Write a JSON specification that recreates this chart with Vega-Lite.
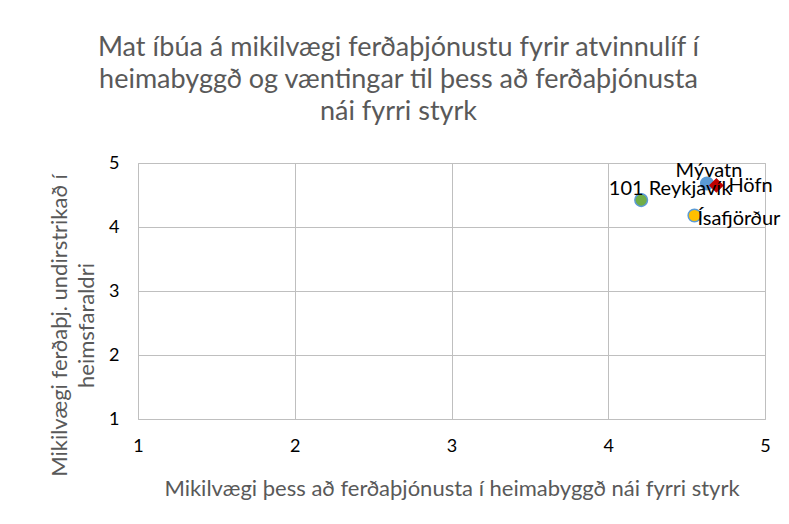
{
  "$schema": "https://vega.github.io/schema/vega-lite/v6.json",
  "autosize": "none",
  "width": 627,
  "height": 256,
  "padding": {"left": 138, "top": 163, "right": 24, "bottom": 105},
  "background": "white",
  "config": {
    "font": "Lato",
    "view": {"stroke": "#BFBFBF", "strokeWidth": 1},
    "axis": {"gridColor": "#BFBFBF", "gridWidth": 1, "domain": false, "ticks": false, "labelFlush": false, "labelColor": "#000000", "labelFontSize": 18, "labelFont": "Lato", "titleFont": "Lato", "titleColor": "#595959", "titleFontWeight": "normal"}
  },
  "title": {
    "text": ["Mat íbúa á mikilvægi ferðaþjónustu fyrir atvinnulíf í", "heimabyggð og væntingar til þess að ferðaþjónusta", "nái fyrri styrk"],
    "anchor": "middle",
    "frame": "group",
    "dx": -53,
    "offset": 28,
    "fontSize": 27,
    "lineHeight": 32,
    "font": "Lato",
    "fontWeight": "normal",
    "color": "#595959"
  },
  "data": {
    "values": [
      {"name": "101 Reykjavík", "x": 4.21, "y": 4.42},
      {"name": "Mývatn", "x": 4.63, "y": 4.68},
      {"name": "Höfn", "x": 4.69, "y": 4.65},
      {"name": "Ísafjörður", "x": 4.55, "y": 4.18}
    ]
  },
  "encoding": {
    "x": {
      "field": "x", "type": "quantitative",
      "scale": {"domain": [1, 5], "nice": false, "zero": false},
      "axis": {"values": [1, 2, 3, 4, 5], "format": "d", "labelPadding": 18, "title": "Mikilvægi þess að ferðaþjónusta í heimabyggð nái fyrri styrk", "titleFontSize": 22, "titlePadding": 23}
    },
    "y": {
      "field": "y", "type": "quantitative",
      "scale": {"domain": [1, 5], "nice": false, "zero": false},
      "axis": {"values": [1, 2, 3, 4, 5], "format": "d", "labelPadding": 19, "title": ["Mikilvægi ferðaþj. undirstrikað í", "heimsfaraldri"], "titleFontSize": 22, "titleAngle": -90, "titleX": -79, "titleY": 162, "titleAlign": "center", "titleBaseline": "middle", "titleLineHeight": 27}
    }
  },
  "layer": [
    {
      "mark": {"type": "point", "filled": true, "opacity": 1, "size": 160, "strokeWidth": 1.5},
      "encoding": {
        "shape": {"field": "name", "type": "nominal", "scale": {"domain": ["Mývatn", "Höfn", "101 Reykjavík", "Ísafjörður"], "range": ["circle", "diamond", "circle", "circle"]}, "legend": null},
        "fill": {"field": "name", "type": "nominal", "scale": {"domain": ["Mývatn", "Höfn", "101 Reykjavík", "Ísafjörður"], "range": ["#5B9BD5", "#C00000", "#70AD47", "#FFC000"]}, "legend": null},
        "stroke": {"field": "name", "type": "nominal", "scale": {"domain": ["Mývatn", "Höfn", "101 Reykjavík", "Ísafjörður"], "range": ["#5B9BD5", "#C00000", "#5B9BD5", "#5B9BD5"]}, "legend": null},
        "order": {"field": "x", "type": "quantitative"}
      }
    },
    {
      "transform": [{"filter": "datum.name === 'Mývatn'"}],
      "mark": {"type": "text", "fontSize": 20, "font": "Lato", "color": "#000000", "align": "center", "baseline": "middle", "dx": 2, "dy": -12},
      "encoding": {"text": {"field": "name"}}
    },
    {
      "transform": [{"filter": "datum.name === '101 Reykjavík'"}],
      "mark": {"type": "text", "fontSize": 20, "font": "Lato", "color": "#000000", "align": "center", "baseline": "middle", "dx": 29, "dy": -11},
      "encoding": {"text": {"field": "name"}}
    },
    {
      "transform": [{"filter": "datum.name === 'Höfn'"}],
      "mark": {"type": "text", "fontSize": 20, "font": "Lato", "color": "#000000", "align": "left", "baseline": "middle", "dx": 12, "dy": 1},
      "encoding": {"text": {"field": "name"}}
    },
    {
      "transform": [{"filter": "datum.name === 'Ísafjörður'"}],
      "mark": {"type": "text", "fontSize": 20, "font": "Lato", "color": "#000000", "align": "left", "baseline": "middle", "dx": 3, "dy": 4},
      "encoding": {"text": {"field": "name"}}
    }
  ]
}
